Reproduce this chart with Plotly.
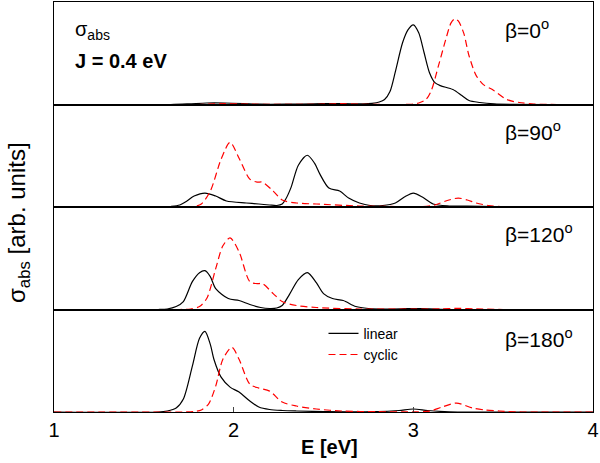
import plotly.graph_objects as go
from plotly.subplots import make_subplots

# ---- data (heights in arbitrary units; panel full scale = 103) ----
panel_labels = ["β=0<sup>o</sup>", "β=90<sup>o</sup>", "β=120<sup>o</sup>", "β=180<sup>o</sup>"]
x_ticks = [1, 2, 3, 4]

E_lin_0 = [1.0, 1.65, 1.75, 1.85, 1.95, 2.05, 2.15, 2.3, 2.45, 2.55, 2.65, 2.72, 2.77, 2.81,
           2.84, 2.87, 2.9, 2.94, 2.97, 3.0, 3.03, 3.06, 3.09, 3.12, 3.15, 3.22, 3.27, 3.31,
           3.37, 3.45, 3.55, 4.0]
I_lin_0 = [0, 0, 0.6, 1.5, 1.5, 1.0, 0.3, 0.3, 0.6, 1.0, 0.6, 0.6, 1.2, 2.5,
           5, 13, 33, 62, 75, 80, 72, 52, 32, 22, 19, 15, 9, 4,
           2, 0.6, 0.1, 0]
E_cyc_0 = [1.0, 1.8, 1.95, 2.1, 2.5, 2.6, 2.7, 2.98, 3.03, 3.07, 3.1, 3.14, 3.18, 3.21, 3.23,
           3.25, 3.28, 3.31, 3.35, 3.39, 3.44, 3.52, 3.59, 3.67, 3.8, 4.0]
I_cyc_0 = [0, 0, 0.8, 0.3, 0.3, 0.8, 0.3, 0.2, 1.5, 5, 14, 39, 65, 82, 86,
           84, 72, 49, 29, 20, 15, 5, 2, 0.5, 0, 0]

E_lin_90 = [1.0, 1.6, 1.65, 1.7, 1.74, 1.78, 1.84, 1.9, 1.96, 2.07, 2.14, 2.2, 2.24, 2.27,
            2.29, 2.32, 2.36, 2.41, 2.45, 2.48, 2.53, 2.59, 2.64, 2.7, 2.76, 2.83, 2.9,
            2.95, 3.0, 3.05, 3.11, 3.2, 3.3, 3.45, 3.6, 4.0]
I_lin_90 = [0, 0, 0.5, 2, 6, 11, 14, 11, 6, 4, 3, 2, 1.5, 3,
            8, 20, 42, 52, 44, 33, 19, 16, 9, 4, 1.5, 1.5, 4,
            10, 14, 10, 3, 1, 0.8, 0.3, 0, 0]
E_cyc_90 = [1.0, 1.72, 1.78, 1.82, 1.87, 1.93, 1.98, 2.03, 2.09, 2.13, 2.16, 2.22, 2.27,
            2.35, 2.46, 2.7, 2.9, 3.05, 3.12, 3.18, 3.25, 3.3, 3.35, 3.42, 3.5, 3.6, 4.0]
I_cyc_90 = [0, 0, 0.5, 3, 16, 48, 65, 49, 28, 25, 25, 16, 7,
            4, 3, 1, 0.5, 0.3, 2, 6, 9, 7, 4, 1.5, 0.3, 0, 0]

E_lin_120 = [1.0, 1.58, 1.63, 1.68, 1.72, 1.77, 1.81, 1.84, 1.87, 1.9, 1.97, 2.03, 2.09,
             2.15, 2.2, 2.24, 2.27, 2.31, 2.36, 2.41, 2.46, 2.5, 2.55, 2.61, 2.68, 2.75,
             2.85, 2.95, 3.0, 3.05, 3.2, 4.0]
I_lin_120 = [0, 0, 0.5, 3, 8, 28, 37, 39, 33, 21, 11, 9, 5,
             2, 1, 1.5, 4, 15, 30, 37, 27, 16, 11, 9, 3, 1,
             0.5, 0.8, 1, 0.8, 0, 0]
E_cyc_120 = [1.0, 1.7, 1.76, 1.81, 1.85, 1.9, 1.94, 1.98, 2.03, 2.09, 2.13, 2.16, 2.22,
             2.27, 2.35, 2.46, 2.7, 3.0, 3.15, 3.25, 3.35, 3.5, 4.0]
I_cyc_120 = [0, 0, 0.5, 3, 11, 41, 64, 72, 58, 28, 26, 26, 16,
             8, 4, 2, 0.5, 0.3, 0.6, 1.2, 0.6, 0, 0]

E_lin_180 = [1.0, 1.58, 1.63, 1.68, 1.72, 1.77, 1.81, 1.84, 1.87, 1.89, 1.93, 1.98, 2.03,
             2.09, 2.14, 2.2, 2.27, 2.35, 2.5, 2.8, 2.92, 3.0, 3.08, 3.2, 4.0]
I_lin_180 = [0, 0, 1, 4, 13, 46, 74, 81, 68, 53, 35, 25, 20,
             11, 5, 2.5, 1.5, 1, 0.5, 0.3, 1.5, 3, 1.5, 0.2, 0]
E_cyc_180 = [1.0, 1.72, 1.78, 1.82, 1.86, 1.9, 1.94, 1.99, 2.03, 2.09, 2.14, 2.2, 2.27,
             2.35, 2.46, 2.6, 2.8, 3.0, 3.09, 3.16, 3.24, 3.33, 3.4, 3.48, 3.6, 4.0]
I_cyc_180 = [0, 0, 0.5, 2, 8, 26, 53, 65, 53, 28, 24, 21, 10,
             6, 3, 1, 0.3, 0.2, 0.8, 5, 9, 4, 2, 1, 0, 0]

linear_series = [(E_lin_0, I_lin_0), (E_lin_90, I_lin_90), (E_lin_120, I_lin_120), (E_lin_180, I_lin_180)]
cyclic_series = [(E_cyc_0, I_cyc_0), (E_cyc_90, I_cyc_90), (E_cyc_120, I_cyc_120), (E_cyc_180, I_cyc_180)]

FONT = "Liberation Sans, Arial, sans-serif"

fig = make_subplots(rows=4, cols=1, shared_xaxes=True, vertical_spacing=0)

for i in range(4):
    row = i + 1
    last = (i == 3)
    ex, iy = linear_series[i]
    fig.add_trace(go.Scatter(x=ex, y=iy, mode="lines", name="linear",
                             line=dict(color="black", width=1.2, shape="spline", smoothing=0.8),
                             showlegend=last), row=row, col=1)
    ex, iy = cyclic_series[i]
    fig.add_trace(go.Scatter(x=ex, y=iy, mode="lines", name="cyclic",
                             line=dict(color="#ff0000", width=1.2, dash="7px,4px",
                                       shape="spline", smoothing=0.8),
                             showlegend=last), row=row, col=1)
    fig.update_yaxes(range=[0, 103], showticklabels=False, ticks="", showgrid=False,
                     zeroline=False, showline=True, linecolor="black", linewidth=1,
                     mirror=True, row=row, col=1)
    fig.update_xaxes(range=[1, 4], showgrid=False, zeroline=False, showline=True,
                     linecolor="black", linewidth=1, mirror=True,
                     tickvals=x_ticks, ticks="inside" if last else "", ticklen=5,
                     showticklabels=last, row=row, col=1)

fig.update_xaxes(tickfont=dict(family=FONT, size=20, color="black"),
                 ticklabeloverflow="allow", row=4, col=1)

annotations = []
# beta labels
beta_y = [0.934, 0.686, 0.436, 0.18]
for lab, yy in zip(panel_labels, beta_y):
    annotations.append(dict(text=lab, xref="paper", yref="paper", x=0.833, y=yy,
                            xanchor="left", yanchor="middle", showarrow=False,
                            font=dict(family=FONT, size=21, color="black")))
annotations.append(dict(text="σ<sub>abs</sub>", xref="paper", yref="paper", x=0.035, y=0.93,
                        xanchor="left", yanchor="middle", showarrow=False,
                        font=dict(family=FONT, size=20, color="black")))
annotations.append(dict(text="<b>J = 0.4 eV</b>", xref="paper", yref="paper", x=0.035, y=0.856,
                        xanchor="left", yanchor="middle", showarrow=False,
                        font=dict(family=FONT, size=20, color="black")))
annotations.append(dict(text="σ<sub>abs</sub> [arb. units]", xref="paper", yref="paper",
                        x=-0.066, y=0.462, xanchor="center", yanchor="middle", textangle=-90,
                        showarrow=False, font=dict(family=FONT, size=24, color="black")))
annotations.append(dict(text="<b>E [eV]</b>", xref="paper", yref="paper", x=0.512, y=-0.085,
                        xanchor="center", yanchor="middle", showarrow=False,
                        font=dict(family=FONT, size=20, color="black")))

fig.update_layout(
    width=600, height=463,
    margin=dict(l=54, r=5, t=1, b=51),
    plot_bgcolor="white", paper_bgcolor="white",
    annotations=annotations,
    legend=dict(x=0.5, y=0.23, xanchor="left", yanchor="top",
                bgcolor="rgba(0,0,0,0)", font=dict(family=FONT, size=14, color="black"),
                tracegroupgap=0, itemwidth=30),
    showlegend=True,
)

fig.write_html("out.html")
